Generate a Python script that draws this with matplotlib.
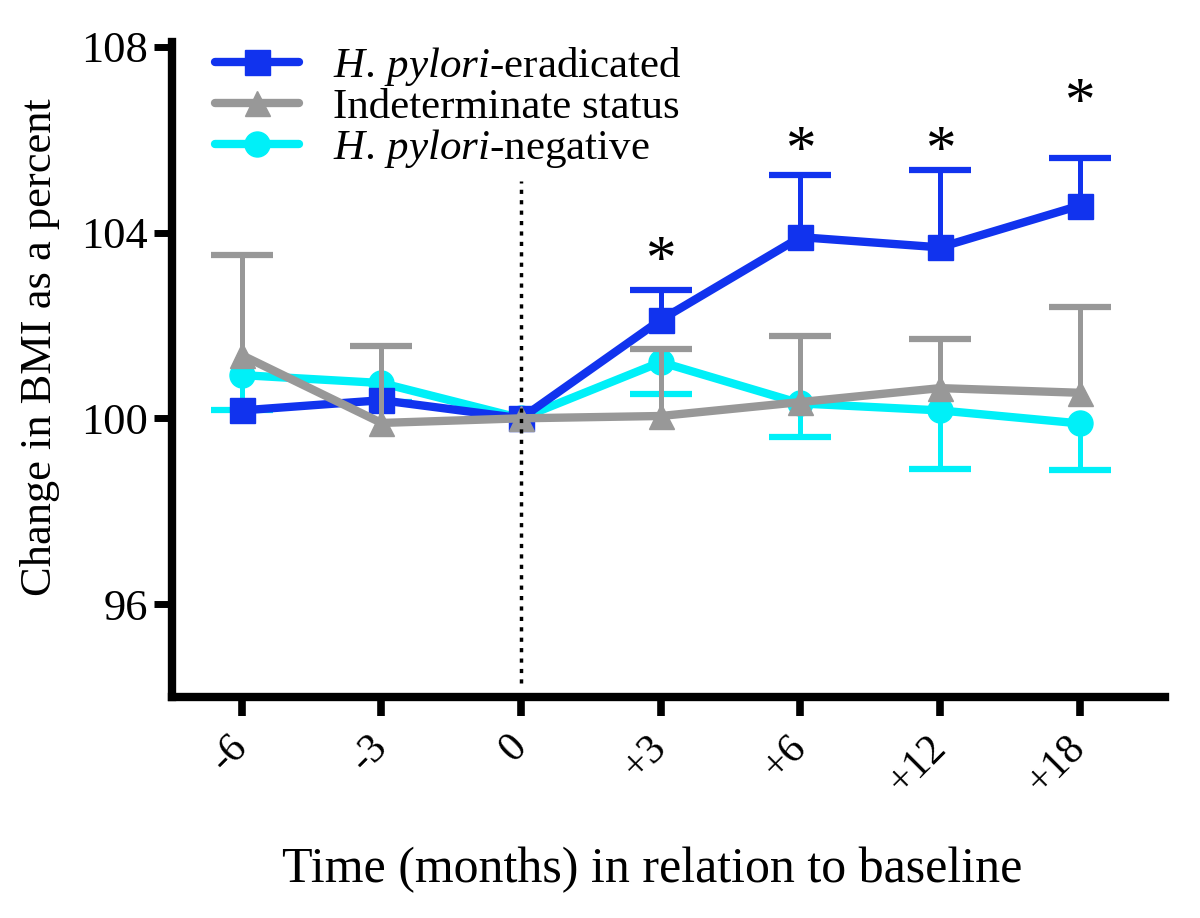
import numpy as np
import matplotlib
matplotlib.use('Agg')
import matplotlib.pyplot as plt

plt.rcParams['font.family'] = ['Liberation Serif', 'DejaVu Serif']
plt.rcParams['mathtext.fontset'] = 'custom'
plt.rcParams['mathtext.rm'] = 'Liberation Serif'
plt.rcParams['mathtext.it'] = 'Liberation Serif:italic'

# data
time_labels = ['-6', '-3', '0', '+3', '+6', '+12', '+18']
eradicated = [100.17, 100.39, 100.0, 102.12, 103.90, 103.68, 104.58]
eradicated_up = [0.0, 0.0, 0.0, 0.65, 1.33, 1.66, 1.02]
indeterminate = [101.36, 99.90, 100.0, 100.05, 100.35, 100.65, 100.55]
indeterminate_up = [2.16, 1.66, 0.0, 1.44, 1.42, 1.05, 1.85]
negative = [100.93, 100.76, 100.0, 101.21, 100.32, 100.17, 99.89]
negative_down = [0.76, 0.40, 0.0, 0.69, 0.73, 1.27, 1.01]
stars_x = [3, 4, 5, 6]
stars_y = [103.37, 105.72, 105.72, 106.77]

blue = '#1133ee'
grey = '#989898'
cyan = '#00f0f8'

x = np.arange(len(time_labels))

fig = plt.figure(figsize=(12, 9.18), dpi=100)
ax = fig.add_axes([0.1433, 0.2407, 0.8275, 0.7135])


def draw(y, err, color, marker, label, z, up=True):
    y = np.array(y)
    err = np.array(err)
    m = err > 0
    zeros = np.zeros(m.sum())
    yerr = [zeros, err[m]] if up else [err[m], zeros]
    _, caps, bars = ax.errorbar(x[m], y[m], yerr=yerr, fmt='none', ecolor=color,
                                elinewidth=3.6, capsize=22, capthick=4.5, zorder=z)
    caps[0 if up else 1].set_visible(False)
    ax.plot(x, y, color=color, lw=6, marker=marker, ms=18, label=label,
            solid_capstyle='round', zorder=z + 0.5)


draw(negative, negative_down, cyan, 'o', r'$\mathit{H.\,pylori}$-negative', 2, up=False)
draw(eradicated, eradicated_up, blue, 's', r'$\mathit{H.\,pylori}$-eradicated', 3)
draw(indeterminate, indeterminate_up, grey, '^', 'Indeterminate status', 4)

ax.vlines(2, 94.3, 105.1, colors='black', linestyles=(0, (1.2, 1.8)), lw=2.5, zorder=5)

for sx, sy in zip(stars_x, stars_y):
    ax.text(sx, sy, '*', ha='center', va='center', fontsize=44, zorder=6)

ax.set_xlim(-0.5, 6.61)
ax.set_ylim(94.0, 108.1)
ax.set_yticks([96, 100, 104, 108])
ax.set_xticks(x)
ax.set_xticklabels(time_labels, rotation=45, ha='right', va='center',
                   rotation_mode='anchor')

for s in ['top', 'right']:
    ax.spines[s].set_visible(False)
for s in ['left', 'bottom']:
    ax.spines[s].set_linewidth(6)
ax.tick_params(axis='y', length=13, width=5, labelsize=32, pad=4)
ax.tick_params(axis='x', length=14, width=5.5, labelsize=30, pad=18)

ax.set_ylabel('Change in BMI as a percent', fontsize=32)
ax.yaxis.set_label_coords(-0.113, 0.534)
ax.set_xlabel('Time (months) in relation to baseline', fontsize=36)
ax.xaxis.set_label_coords(0.484, -0.229)

handles, labels = ax.get_legend_handles_labels()
order = [1, 2, 0]
ax.legend([handles[i] for i in order], [labels[i] for i in order],
          loc='upper left', bbox_to_anchor=(0.043, 0.995), frameon=False,
          borderaxespad=0, borderpad=0,
          fontsize=31, handlelength=1.95, labelspacing=0.0, handletextpad=0.8)

plt.savefig('out.png')
